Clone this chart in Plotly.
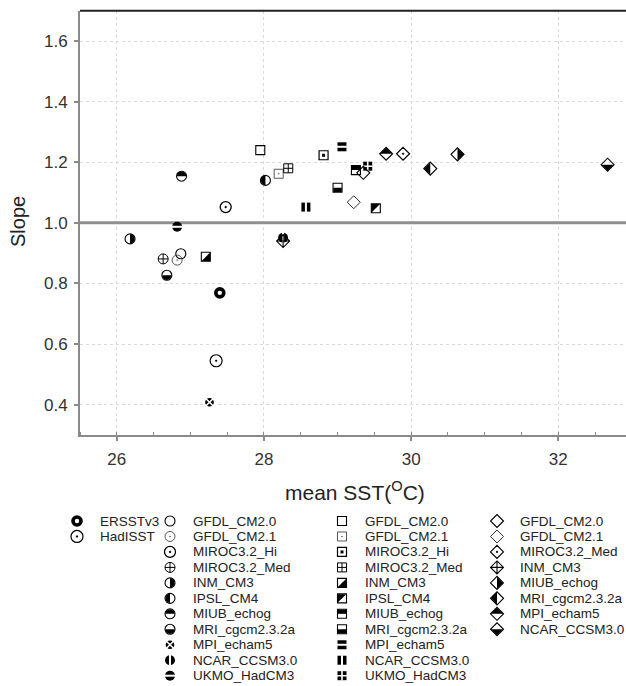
import plotly.graph_objects as go

W, H = 626, 686
FONT = "Liberation Sans, Arial, Helvetica, sans-serif"

# ---------------- data ----------------
obs_names = ["ERSSTv3", "HadISST"]
obs_sst = [27.40, 27.35]
obs_slope = [0.769, 0.545]

circle_models = ["GFDL_CM2.0", "GFDL_CM2.1", "MIROC3.2_Hi", "MIROC3.2_Med", "INM_CM3",
                 "IPSL_CM4", "MIUB_echog", "MRI_cgcm2.3.2a", "MPI_echam5", "NCAR_CCSM3.0",
                 "UKMO_HadCM3"]
circle_sst = [26.87, 26.82, 27.48, 26.63, 26.18, 28.02, 26.88, 26.68, 27.26, 28.26, 26.82]
circle_slope = [0.898, 0.877, 1.052, 0.881, 0.947, 1.140, 1.154, 0.827, 0.408, 0.951, 0.987]

square_models = ["GFDL_CM2.0", "GFDL_CM2.1", "MIROC3.2_Hi", "MIROC3.2_Med", "INM_CM3",
                 "IPSL_CM4", "MIUB_echog", "MRI_cgcm2.3.2a", "MPI_echam5", "NCAR_CCSM3.0",
                 "UKMO_HadCM3"]
square_sst = [27.95, 28.20, 28.81, 28.33, 27.21, 29.52, 29.25, 29.00, 29.06, 28.57, 29.41]
square_slope = [1.240, 1.162, 1.223, 1.180, 0.888, 1.048, 1.174, 1.116, 1.251, 1.052, 1.187]

diamond_models = ["GFDL_CM2.0", "GFDL_CM2.1", "MIROC3.2_Med", "INM_CM3", "MIUB_echog",
                  "MRI_cgcm2.3.2a", "MPI_echam5", "NCAR_CCSM3.0"]
diamond_sst = [29.35, 29.22, 29.89, 28.26, 30.63, 30.26, 29.66, 32.67]
diamond_slope = [1.165, 1.068, 1.228, 0.940, 1.226, 1.179, 1.228, 1.192]

REFERENCE_SLOPE = 1.0
x_range = [25.5, 32.92]
y_range = [0.3, 1.7]
x_ticks = [26, 28, 30, 32]
y_ticks = [0.4, 0.6, 0.8, 1.0, 1.2, 1.4, 1.6]
y_ticklabels = ["0.4", "0.6", "0.8", "1.0", "1.2", "1.4", "1.6"]


# ---------------- marker styles ----------------
def mk(symbol, size, lw=1.1, color="black", lcolor=None):
    return ("m", dict(symbol=symbol, size=size, color=color,
                      line=dict(width=lw, color=lcolor if lcolor else color)))


def half(shape, part, r):
    """black half-fill drawn in pixel units around the data point"""
    return ("h", shape, part, r)


WHITE = "white"
CR, SR, DR = 4.6, 4.2, 6.1  # half-fill extents (px) for circle / square / diamond

obs_styles = [
    [mk("circle-open", 8, 3.6)],
    [mk("circle-open-dot", 12, 1.2)],
]
circle_styles = [
    [mk("circle-open", 10, 1.1)],
    [mk("circle-open-dot", 10, 0.9, "#444")],
    [mk("circle-open-dot", 11, 1.3)],
    [mk("circle-cross-open", 10, 1.0)],
    [mk("circle-open", 10, 1.1), half("c", "right", CR)],
    [mk("circle-open", 10, 1.1), half("c", "left", CR)],
    [mk("circle-open", 10, 1.1), half("c", "top", CR)],
    [mk("circle-open", 10, 1.1), half("c", "bottom", CR)],
    [mk("circle", 10, 1.3, "black", WHITE), mk("x-thin-open", 8, 1.6, WHITE)],
    [mk("circle", 10, 0), mk("line-ns-open", 10, 2.0, WHITE)],
    [mk("circle", 10, 0), mk("line-ew-open", 10, 2.0, WHITE)],
]
square_styles = [
    [mk("square-open", 9, 1.1)],
    [mk("square-open-dot", 9, 0.9, "#444")],
    [mk("square-open", 9, 1.2), mk("square", 3, 0)],
    [mk("square-cross-open", 9, 1.0)],
    [mk("square-open", 9, 1.1), half("s", "lowright", SR)],
    [mk("square-open", 9, 1.1), half("s", "upleft", SR)],
    [mk("square-open", 9, 1.1), half("s", "top", SR)],
    [mk("square-open", 9, 1.1), half("s", "bottom", SR)],
    [mk("square", 9, 0), mk("line-ew-open", 7, 2.0, WHITE)],
    [mk("square", 9, 0), mk("line-ns-open", 7, 2.0, WHITE)],
    [mk("square", 9, 0), mk("cross-thin-open", 7, 1.6, WHITE)],
]
diamond_styles = [
    [mk("diamond-open", 10, 1.1)],
    [mk("diamond-open", 10, 1.0, "#333")],
    [mk("diamond-open-dot", 10, 1.2)],
    [mk("diamond-cross-open", 10, 1.1)],
    [mk("diamond-open", 10, 1.1), half("d", "right", DR)],
    [mk("diamond-open", 10, 1.1), half("d", "left", DR)],
    [mk("diamond-open", 10, 1.1), half("d", "top", DR)],
    [mk("diamond-open", 10, 1.1), half("d", "bottom", DR)],
]

K = 0.5523


def half_path(shape, part, r):
    k = K * r
    if shape == "c":
        paths = {
            "right": f"M0,{r} C{k},{r} {r},{k} {r},0 C{r},{-k} {k},{-r} 0,{-r} Z",
            "left": f"M0,{r} C{-k},{r} {-r},{k} {-r},0 C{-r},{-k} {-k},{-r} 0,{-r} Z",
            "top": f"M{-r},0 C{-r},{k} {-k},{r} 0,{r} C{k},{r} {r},{k} {r},0 Z",
            "bottom": f"M{-r},0 C{-r},{-k} {-k},{-r} 0,{-r} C{k},{-r} {r},{-k} {r},0 Z",
        }
    elif shape == "s":
        paths = {
            "lowright": f"M{r},{r} L{r},{-r} L{-r},{-r} Z",
            "upleft": f"M{-r},{-r} L{-r},{r} L{r},{r} Z",
            "top": f"M{-r},0 L{r},0 L{r},{r} L{-r},{r} Z",
            "bottom": f"M{-r},0 L{r},0 L{r},{-r} L{-r},{-r} Z",
        }
    else:
        paths = {
            "right": f"M0,{r} L{r},0 L0,{-r} Z",
            "left": f"M0,{r} L{-r},0 L0,{-r} Z",
            "top": f"M{-r},0 L{r},0 L0,{r} Z",
            "bottom": f"M{-r},0 L{r},0 L0,{-r} Z",
        }
    return paths[part]


fig = go.Figure()
shapes = []

# reference line at slope = 1, drawn first so it sits above the grid but under the marks
fig.add_trace(go.Scatter(x=x_range, y=[REFERENCE_SLOPE, REFERENCE_SLOPE], mode="lines",
                         line=dict(color="#8f8f8f", width=3), xaxis="x", yaxis="y",
                         showlegend=False, hoverinfo="skip"))


def add_layers(xs, ys, layers, xa, ya):
    for layer in layers:
        if layer[0] == "m":
            fig.add_trace(go.Scatter(x=xs, y=ys, mode="markers", marker=layer[1],
                                     xaxis=xa, yaxis=ya, showlegend=False,
                                     hoverinfo="skip", cliponaxis=False))
        else:
            _, shp, part, r = layer
            for xv, yv in zip(xs, ys):
                shapes.append(dict(type="path", xref=xa, yref=ya,
                                   xsizemode="pixel", ysizemode="pixel",
                                   xanchor=xv, yanchor=yv,
                                   path=half_path(shp, part, r),
                                   fillcolor="black", line=dict(width=0),
                                   layer="above"))


groups = [
    (obs_names, obs_sst, obs_slope, obs_styles),
    (circle_models, circle_sst, circle_slope, circle_styles),
    (square_models, square_sst, square_slope, square_styles),
    (diamond_models, diamond_sst, diamond_slope, diamond_styles),
]

for names, xs, ys, styles in groups:
    for xv, yv, st in zip(xs, ys, styles):
        add_layers([xv], [yv], st, "x", "y")

# ---------------- hand-built legend (columns under the plot) ----------------
LEG_COL_MARK = [77, 170, 342, 497]
LEG_COL_TEXT = [98, 191, 363, 518]
LEG_ROW0 = 521
LEG_ROW_STEP = 15.47
annotations = []
for ci, (names, xs, ys, styles) in enumerate(groups):
    for ri, (nm, st) in enumerate(zip(names, styles)):
        ry = LEG_ROW0 + ri * LEG_ROW_STEP
        add_layers([LEG_COL_MARK[ci]], [ry], st, "x2", "y2")
        annotations.append(dict(x=LEG_COL_TEXT[ci], y=ry, xref="x2", yref="y2",
                                text=nm, showarrow=False, xanchor="left", yanchor="middle",
                                font=dict(family=FONT, size=13.5, color="#222")))

# axis titles
annotations.append(dict(x=355 / W, y=1 - 491 / H, xref="paper", yref="paper",
                        text="mean SST(<sup>O</sup>C)", showarrow=False,
                        xanchor="center", yanchor="middle",
                        font=dict(family=FONT, size=21, color="#222")))
annotations.append(dict(x=18 / W, y=1 - 222 / H, xref="paper", yref="paper",
                        text="Slope", showarrow=False, textangle=-90,
                        xanchor="center", yanchor="middle",
                        font=dict(family=FONT, size=20, color="#222")))

PLOT_L, PLOT_T, PLOT_B = 80, 10.7, 435

# dark top frame line
shapes.append(dict(type="line", xref="x domain", yref="y domain", x0=0, x1=1, y0=1, y1=1,
                   line=dict(color="#222", width=2)))

fig.update_layout(
    width=W, height=H, autosize=False,
    margin=dict(l=0, r=0, t=0, b=0, pad=0),
    paper_bgcolor="white", plot_bgcolor="white",
    font=dict(family=FONT, color="#333"),
    xaxis=dict(domain=[PLOT_L / W, 1], range=x_range, anchor="y",
               tickvals=x_ticks, ticks="outside", ticklen=4, tickwidth=1.5,
               tickcolor="#8a8a8a", showline=True, linecolor="#8a8a8a", linewidth=2,
               showgrid=True, gridcolor="#dadada", griddash="dot", gridwidth=1,
               zeroline=False, tickfont=dict(size=17, color="#333"),
               ticklabelstandoff=4, automargin=False,
               minor=dict(tick0=25.5, dtick=0.5, ticks="inside", ticklen=3,
                          tickcolor="#8a8a8a", tickwidth=1.2, showgrid=False)),
    yaxis=dict(domain=[1 - PLOT_B / H, 1 - PLOT_T / H], range=y_range, anchor="x",
               tickvals=y_ticks, ticktext=y_ticklabels, ticks="outside", ticklen=4,
               tickwidth=1.5, tickcolor="#8a8a8a", showline=True, linecolor="#8a8a8a",
               linewidth=2, showgrid=True, gridcolor="#dadada", griddash="dot",
               gridwidth=1, zeroline=False, tickfont=dict(size=17, color="#333"),
               ticklabelstandoff=3, automargin=False),
    xaxis2=dict(domain=[0, 1], range=[0, W], anchor="y2", visible=False),
    yaxis2=dict(domain=[0, 1 - PLOT_B / H], range=[H, PLOT_B], anchor="x2", visible=False),
    annotations=annotations,
    shapes=shapes,
)

fig.write_html("out.html", config={"displayModeBar": False},
               post_script="document.body.style.margin='0px';document.body.style.overflow='hidden';")
